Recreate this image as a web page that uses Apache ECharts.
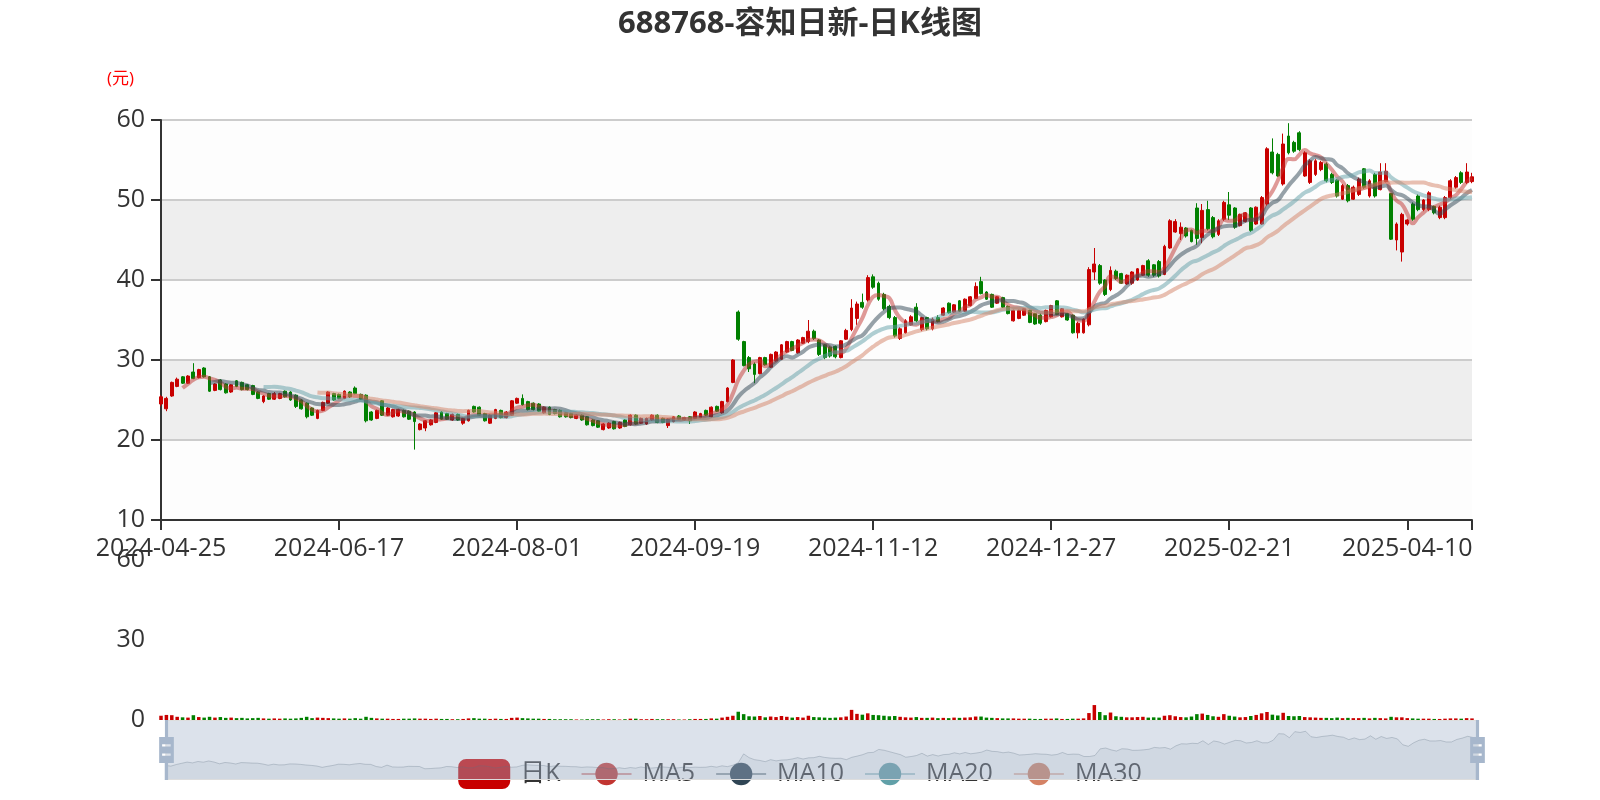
<!DOCTYPE html>
<html>
<head>
<meta charset="utf-8">
<script src="https://cdn.jsdelivr.net/npm/echarts@6/dist/echarts.min.js"></script>
<style>html,body{margin:0;padding:0;background:#fff}#c{width:1600px;height:800px}</style>
</head>
<body>
<div id="c"></div>
<script>
// ---------- DATA ----------
const dates = [
'2024-04-25','2024-04-26','2024-04-29','2024-04-30',
'2024-05-06','2024-05-07','2024-05-08','2024-05-09','2024-05-10','2024-05-13','2024-05-14','2024-05-15','2024-05-16','2024-05-17','2024-05-20','2024-05-21','2024-05-22','2024-05-23','2024-05-24','2024-05-27','2024-05-28','2024-05-29','2024-05-30','2024-05-31',
'2024-06-03','2024-06-04','2024-06-05','2024-06-06','2024-06-07','2024-06-11','2024-06-12','2024-06-13','2024-06-14','2024-06-17','2024-06-18','2024-06-19','2024-06-20','2024-06-21','2024-06-24','2024-06-25','2024-06-26','2024-06-27','2024-06-28',
'2024-07-01','2024-07-02','2024-07-03','2024-07-04','2024-07-05','2024-07-08','2024-07-09','2024-07-10','2024-07-11','2024-07-12','2024-07-15','2024-07-16','2024-07-17','2024-07-18','2024-07-19','2024-07-22','2024-07-23','2024-07-24','2024-07-25','2024-07-26','2024-07-29','2024-07-30','2024-07-31',
'2024-08-01','2024-08-02','2024-08-05','2024-08-06','2024-08-07','2024-08-08','2024-08-09','2024-08-12','2024-08-13','2024-08-14','2024-08-15','2024-08-16','2024-08-19','2024-08-20','2024-08-21','2024-08-22','2024-08-23','2024-08-26','2024-08-27','2024-08-28','2024-08-29','2024-08-30',
'2024-09-02','2024-09-03','2024-09-04','2024-09-05','2024-09-06','2024-09-09','2024-09-10','2024-09-11','2024-09-12','2024-09-13','2024-09-18','2024-09-19','2024-09-20','2024-09-23','2024-09-24','2024-09-25','2024-09-26','2024-09-27','2024-09-30',
'2024-10-08','2024-10-09','2024-10-10','2024-10-11','2024-10-14','2024-10-15','2024-10-16','2024-10-17','2024-10-18','2024-10-21','2024-10-22','2024-10-23','2024-10-24','2024-10-25','2024-10-28','2024-10-29','2024-10-30','2024-10-31',
'2024-11-01','2024-11-04','2024-11-05','2024-11-06','2024-11-07','2024-11-08','2024-11-11','2024-11-12','2024-11-13','2024-11-14','2024-11-15','2024-11-18','2024-11-19','2024-11-20','2024-11-21','2024-11-22','2024-11-25','2024-11-26','2024-11-27','2024-11-28','2024-11-29',
'2024-12-02','2024-12-03','2024-12-04','2024-12-05','2024-12-06','2024-12-09','2024-12-10','2024-12-11','2024-12-12','2024-12-13','2024-12-16','2024-12-17','2024-12-18','2024-12-19','2024-12-20','2024-12-23','2024-12-24','2024-12-25','2024-12-26','2024-12-27','2024-12-30','2024-12-31',
'2025-01-02','2025-01-03','2025-01-06','2025-01-07','2025-01-08','2025-01-09','2025-01-10','2025-01-13','2025-01-14','2025-01-15','2025-01-16','2025-01-17','2025-01-20','2025-01-21','2025-01-22','2025-01-23','2025-01-24','2025-01-27',
'2025-02-05','2025-02-06','2025-02-07','2025-02-10','2025-02-11','2025-02-12','2025-02-13','2025-02-14','2025-02-17','2025-02-18','2025-02-19','2025-02-20','2025-02-21','2025-02-24','2025-02-25','2025-02-26','2025-02-27','2025-02-28',
'2025-03-03','2025-03-04','2025-03-05','2025-03-06','2025-03-07','2025-03-10','2025-03-11','2025-03-12','2025-03-13','2025-03-14','2025-03-17','2025-03-18','2025-03-19','2025-03-20','2025-03-21','2025-03-24','2025-03-25','2025-03-26','2025-03-27','2025-03-28','2025-03-31',
'2025-04-01','2025-04-02','2025-04-03','2025-04-07','2025-04-08','2025-04-09','2025-04-10','2025-04-11','2025-04-14','2025-04-15','2025-04-16','2025-04-17','2025-04-18','2025-04-21','2025-04-22','2025-04-23','2025-04-24','2025-04-25','2025-04-28'
];

// [open, close, low, high]
const kdata = [
[24.5,25.4,24.2,25.6],[23.9,25.2,23.6,25.4],[25.5,27.2,25.4,27.3],[26.7,27.6,26.6,27.8],[27.9,27.1,27.0,28.0],
[27.1,28.0,27.0,28.1],[28.5,27.7,27.6,29.6],[27.8,28.8,27.7,28.9],[29.0,27.9,27.8,29.1],[27.9,26.1,26.0,28.0],
[26.2,27.0,26.1,27.1],[27.5,26.3,26.2,27.6],[27.0,25.9,25.8,27.1],[26.0,26.9,25.9,27.0],[27.4,26.7,26.6,27.5],
[27.2,26.3,26.2,27.3],[26.9,26.3,26.2,27.0],[26.8,25.7,25.6,26.9],[26.0,25.2,25.1,26.1],[24.8,25.5,24.6,25.6],
[25.8,25.1,25.0,25.9],[25.1,25.8,25.0,26.0],[25.2,25.8,25.1,25.9],[26.1,25.4,25.3,26.2],[26.0,25.0,24.9,26.1],
[25.6,24.2,24.0,25.7],[25.0,23.9,23.8,25.1],[24.6,22.9,22.7,24.7],[24.0,23.1,23.0,24.1],[22.7,23.7,22.6,23.8],
[23.7,24.7,23.6,24.8],[24.6,26.0,24.5,26.1],[25.8,25.0,24.9,25.9],[25.7,25.2,25.1,25.8],[25.2,26.1,25.1,26.2],
[26.0,25.4,25.3,26.1],[26.5,25.8,25.7,26.7],[25.7,25.1,25.0,25.8],[25.6,22.4,22.2,25.7],[23.5,22.5,22.4,23.6],
[22.7,23.7,22.6,23.8],[24.9,23.1,23.0,25.0],[23.1,24.0,23.0,24.1],[22.9,23.8,22.8,23.9],[23.0,23.8,22.9,23.9],
[23.7,22.9,22.8,23.8],[23.6,22.6,22.5,23.7],[23.5,22.3,18.8,23.6],[21.3,22.0,21.2,22.1],[21.5,22.4,21.1,22.5],
[21.9,22.5,21.8,22.6],[22.2,23.4,22.1,23.5],[23.5,22.6,22.5,23.6],[23.3,22.6,22.5,23.4],[22.5,23.2,22.4,23.3],
[23.2,22.5,22.4,23.3],[22.1,22.7,21.9,22.8],[22.4,23.7,22.3,23.8],[24.2,23.5,23.4,24.3],[24.1,23.1,23.0,24.2],
[23.3,22.4,22.3,23.4],[22.1,23.1,22.0,23.2],[22.7,23.8,22.6,23.9],[23.7,22.8,22.7,23.8],[22.8,23.5,22.7,23.6],
[23.1,24.9,23.0,25.0],[24.6,25.2,24.5,25.3],[25.2,24.4,24.3,25.7],[24.8,23.8,23.7,24.9],[24.6,23.8,23.7,24.7],
[24.5,23.6,23.5,24.6],[23.4,24.1,23.3,24.2],[24.1,23.2,23.1,24.2],[23.8,23.3,23.2,23.9],[23.7,22.9,22.8,23.8],
[23.4,22.9,22.8,23.5],[23.3,22.8,22.7,23.4],[22.7,23.1,22.6,23.2],[23.1,22.5,22.4,23.2],[22.9,21.9,21.8,23.0],
[22.5,21.8,21.7,22.6],[22.4,21.6,21.5,22.5],[21.3,22.0,21.2,22.1],[21.5,22.1,21.4,22.2],[22.3,21.4,21.3,22.4],
[21.5,22.2,21.4,22.3],[22.5,21.7,21.6,22.6],[21.9,23.1,21.8,23.2],[23.1,22.0,21.9,23.2],[22.1,22.7,22.0,22.8],
[22.0,22.7,21.9,22.8],[22.5,23.1,22.4,23.2],[23.1,22.2,22.1,23.2],[22.7,22.2,22.1,22.8],[21.8,22.6,21.5,22.7],
[22.3,22.9,22.2,23.0],[23.0,22.6,22.5,23.1],[22.5,22.8,22.4,22.9],[22.9,22.4,22.0,23.0],[22.7,23.5,22.6,23.6],
[22.8,23.3,22.7,23.4],[23.7,23.1,23.0,23.8],[22.9,24.1,22.8,24.2],[24.2,23.6,23.5,24.3],[23.4,24.8,23.3,24.9],
[24.8,26.5,24.7,26.6],[27.2,30.0,27.1,30.1],[36.0,32.6,32.4,36.2],[32.3,29.3,29.2,32.4],[30.3,28.9,28.5,30.5],
[29.5,28.2,27.1,29.7],[28.3,30.3,28.2,30.4],[30.3,29.4,29.3,30.4],[29.1,30.7,29.0,30.8],[29.9,31.0,29.8,31.1],
[30.1,31.9,30.0,32.0],[31.0,32.3,30.9,32.4],[32.3,31.2,31.1,32.4],[30.9,32.5,30.8,32.6],[32.1,32.8,32.0,32.9],
[32.3,33.6,32.1,35.0],[33.6,32.7,32.5,33.8],[32.5,30.7,30.5,32.6],[31.9,30.3,30.1,32.0],[31.6,30.5,30.3,31.7],
[31.7,30.4,30.2,31.8],[30.3,32.4,30.2,32.5],[32.6,33.7,32.5,33.9],[33.8,36.5,33.6,37.6],[35.2,37.0,34.4,37.3],
[37.2,36.6,36.4,38.3],[37.5,40.3,37.3,40.6],[40.4,39.1,38.9,40.7],[39.6,37.6,37.4,39.8],[38.2,36.4,36.2,38.4],
[36.7,35.3,35.1,36.9],[35.3,33.0,32.8,35.5],[32.7,33.9,32.5,34.1],[33.4,34.9,33.3,35.1],[34.4,35.4,34.3,35.6],
[36.6,34.9,34.7,37.1],[33.8,35.3,33.6,35.4],[35.3,33.9,33.7,35.4],[33.9,35.1,33.7,35.3],[35.3,34.8,34.7,35.6],
[35.6,36.5,35.5,36.6],[37.1,35.9,35.8,37.2],[36.0,36.9,35.9,37.0],[37.4,36.1,36.0,37.5],[36.1,37.6,36.0,37.7],
[36.8,37.9,36.7,38.0],[37.7,39.2,37.6,39.7],[39.8,38.3,38.2,40.4],[38.5,37.6,37.5,38.6],[38.2,36.6,36.5,38.3],
[37.1,37.9,37.0,38.0],[37.8,36.6,36.5,37.9],[36.7,35.8,35.7,36.8],[34.9,36.2,34.8,36.3],[35.2,36.2,35.1,36.3],
[35.6,36.4,35.5,36.5],[36.2,34.7,34.6,36.3],[35.8,34.5,34.4,35.9],[35.6,34.6,34.4,35.8],[34.8,36.2,34.7,36.3],
[35.4,36.8,35.3,36.9],[37.4,35.7,35.6,37.5],[35.4,36.4,35.3,36.5],[35.8,35.0,34.9,35.9],[35.6,33.4,33.3,35.7],
[33.4,34.6,32.7,34.8],[33.4,35.1,33.3,35.2],[34.4,41.3,34.2,41.6],[41.0,42.0,40.0,44.0],[41.8,39.6,39.4,42.0],
[40.0,38.2,38.0,40.1],[38.8,41.2,38.6,41.7],[41.1,40.2,40.0,41.3],[40.8,39.6,39.5,40.9],[39.5,40.6,39.4,40.7],
[39.6,41.0,39.4,41.1],[40.0,41.4,39.9,41.5],[40.6,41.8,40.5,41.9],[42.4,40.6,40.4,42.6],[41.9,40.6,40.4,42.0],
[42.3,40.5,40.3,42.5],[40.7,44.2,40.6,44.4],[44.0,47.4,43.9,47.6],[46.0,47.3,45.9,47.6],[45.8,46.6,45.0,47.2],
[46.5,45.5,45.3,46.6],[46.2,44.8,44.7,46.3],[49.0,45.2,44.4,49.6],[45.3,48.7,44.6,49.5],[48.8,46.4,46.2,49.9],
[47.8,45.4,45.2,48.0],[45.7,47.4,45.5,47.6],[47.6,49.7,47.4,49.9],[49.4,48.1,47.5,51.0],[49.0,46.6,46.4,49.1],
[46.8,48.2,46.7,48.3],[47.3,48.4,47.2,48.5],[49.0,46.2,46.0,49.1],[47.0,49.1,46.9,49.2],[47.0,50.3,46.9,50.5],
[49.5,56.4,49.3,56.6],[56.0,53.4,53.2,57.7],[55.7,53.0,52.9,55.9],[52.0,57.0,51.8,58.3],[58.0,55.9,55.7,59.6],
[57.2,56.1,55.9,57.4],[58.4,56.3,56.1,58.6],[53.0,55.9,52.9,56.1],[52.2,54.9,52.0,55.1],[53.2,54.9,53.0,55.1],
[53.8,54.7,53.6,54.9],[54.5,52.4,52.2,54.7],[53.2,52.2,52.0,53.4],[52.5,50.5,50.3,52.6],[50.1,51.8,50.0,52.0],
[51.8,49.9,49.7,52.0],[50.1,51.6,50.0,51.8],[50.7,52.6,50.5,52.8],[53.9,51.6,51.4,54.0],[50.5,52.4,50.3,52.6],
[53.2,50.5,50.3,53.4],[51.3,53.5,51.2,54.6],[52.3,53.6,52.2,54.6],[50.8,45.1,45.0,50.9],[45.0,47.0,43.7,47.2],
[43.5,48.2,42.3,48.4],[47.0,47.5,46.8,47.6],[49.5,47.6,47.4,49.7],[50.5,48.8,48.6,50.7],[48.8,50.0,48.6,50.1],
[48.8,50.9,48.6,51.1],[49.2,48.4,48.2,49.3],[47.8,49.1,47.6,49.3],[47.8,50.3,47.6,50.5],[50.3,52.4,50.1,52.6],
[51.6,52.8,51.4,53.0],[53.4,52.2,52.0,53.6],[52.2,53.5,52.0,54.6],[52.3,52.9,52.1,53.4]
];

const volumes = [
1.6,1.9,1.8,1.2,1.0,0.9,1.8,1.1,0.9,1.2,
0.9,1.1,0.8,0.9,0.7,0.8,0.6,0.7,0.8,0.6,
0.5,0.6,0.5,0.6,0.5,0.6,0.8,1.2,0.7,0.9,
0.8,0.7,0.6,0.5,0.6,0.5,0.7,0.5,1.2,0.8,
0.6,0.5,0.5,0.4,0.4,0.5,0.5,0.6,0.5,0.5,
0.4,0.5,0.4,0.4,0.3,0.3,0.4,0.6,0.7,0.5,
0.5,0.4,0.5,0.4,0.4,0.8,0.9,0.7,0.6,0.5,
0.5,0.4,0.4,0.3,0.3,0.3,0.3,0.2,0.2,0.3,
0.3,0.3,0.2,0.3,0.3,0.2,0.3,0.5,0.5,0.3,
0.3,0.4,0.3,0.3,0.3,0.3,0.2,0.2,0.3,0.4,
0.4,0.4,0.6,0.5,0.9,1.2,1.6,3.1,2.2,1.4,
1.3,1.5,1.0,1.3,1.1,1.5,1.2,0.9,1.1,0.9,
1.6,1.1,1.0,0.9,0.8,0.9,1.0,1.3,3.8,2.3,
2.0,2.5,1.9,1.8,1.6,1.4,1.5,1.2,1.0,0.9,
1.1,0.8,0.8,0.9,0.7,0.8,0.7,0.9,0.8,0.9,
1.0,1.3,1.3,0.9,0.8,0.7,0.6,0.6,0.6,0.5,
0.5,0.5,0.4,0.4,0.5,0.5,0.6,0.4,0.4,0.5,
0.5,0.6,2.6,5.6,3.0,1.8,2.8,1.4,1.2,1.0,
1.0,1.1,1.2,0.9,1.0,0.9,1.6,1.8,1.4,1.1,
1.0,1.3,2.2,2.4,1.9,1.4,1.2,2.2,1.6,1.3,
1.0,1.1,1.5,1.9,2.5,3.0,2.0,1.7,2.7,1.5,
1.4,1.5,1.1,1.0,0.9,0.8,0.8,0.7,0.9,0.7,
0.8,0.7,0.7,0.8,0.6,0.8,0.7,0.6,1.2,1.0,
1.0,0.7,0.6,0.5,0.5,0.5,0.4,0.4,0.5,0.6,
0.6,0.5,0.7,0.6
];

const maPeriods = [5, 10, 20, 30];
const priceTicks = { min: 10, max: 60, interval: 10 };
const volumeTicks = { min: 0, max: 60, interval: 30 };
const labelStep = 33;
const titleText = '688768-容知日新-日K线图';

// ---------- CHART ----------
const UP = '#c80000', DOWN = '#008000';
const FONT = "'Open Sans', 'Noto Sans CJK SC', sans-serif";
const maColors = ['#c23531', '#2f4554', '#61a0a8', '#d48265'];

function calcMA(n) {
  const out = [];
  for (let i = 0; i < kdata.length; i++) {
    if (i < n - 1) { out.push('-'); continue; }
    let s = 0;
    for (let j = 0; j < n; j++) s += kdata[i - j][1];
    out.push(+(s / n).toFixed(3));
  }
  return out;
}

const volData = volumes.map((v, i) => ({
  value: v,
  itemStyle: { color: kdata[i][1] >= kdata[i][0] ? UP : DOWN }
}));

// tick positions: every labelStep categories plus the last category
const tickIdx = [];
for (let i = 0; i < dates.length; i += labelStep) tickIdx.push(i);
tickIdx.push(dates.length - 1);

const chart = echarts.init(document.getElementById('c'), null, { renderer: 'canvas' });

const maSeries = maPeriods.map((n, k) => ({
  name: 'MA' + n,
  type: 'line',
  data: calcMA(n),
  smooth: true,
  symbol: 'circle',
  showSymbol: false,
  color: maColors[k],
  lineStyle: { width: 4, opacity: 0.5, color: maColors[k] },
  itemStyle: { color: maColors[k] },
  z: 3
}));

const option = {
  animation: false,
  backgroundColor: '#fff',
  textStyle: { fontFamily: FONT },
  title: {
    text: titleText, left: 'center', top: 4,
    textStyle: { fontSize: 31, fontWeight: 'bold', color: '#333', fontFamily: FONT }
  },
  legend: {
    data: ['日K', 'MA5', 'MA10', 'MA20', 'MA30'],
    left: 'center', top: 754,
    itemWidth: 50, itemHeight: 28, itemGap: 20,
    textStyle: { fontSize: 25, color: '#333', fontFamily: FONT, padding: [0, 0, 0, 6] },
    z: 1
  },
  grid: [
    { left: 161, right: 128, top: 120, height: 400 },
    { left: 161, right: 128, top: 560, height: 160 }
  ],
  xAxis: [
    {
      type: 'category', data: dates, boundaryGap: false,
      axisLine: { show: true, onZero: false, lineStyle: { color: '#333', width: 2 } },
      axisTick: { show: true, length: 10, customValues: tickIdx, lineStyle: { color: '#333', width: 2 } },
      axisLabel: { interval: labelStep - 1, fontSize: 25, margin: 16, color: '#333', fontFamily: FONT },
      splitLine: { show: false }
    },
    {
      type: 'category', gridIndex: 1, data: dates, boundaryGap: false,
      axisLine: { show: false }, axisTick: { show: false }, axisLabel: { show: false }, splitLine: { show: false }
    }
  ],
  yAxis: [
    {
      type: 'value', min: priceTicks.min, max: priceTicks.max, interval: priceTicks.interval,
      name: '(元)', nameLocation: 'end', nameGap: 32,
      nameTextStyle: { color: '#ff0000', fontSize: 17, align: 'right', padding: [0, 27, 0, 0], fontFamily: FONT },
      axisLine: { show: true, lineStyle: { color: '#333', width: 2 } },
      axisTick: { show: true, length: 10, lineStyle: { color: '#333', width: 2 } },
      axisLabel: { fontSize: 25, margin: 16, color: '#333', fontFamily: FONT },
      splitLine: { show: true, lineStyle: { color: '#ccc', width: 2 } },
      splitArea: { show: true, areaStyle: { color: ['rgba(250,250,250,0.3)', 'rgba(200,200,200,0.3)'] } }
    },
    {
      type: 'value', gridIndex: 1, min: volumeTicks.min, max: volumeTicks.max, interval: volumeTicks.interval,
      axisLine: { show: false }, axisTick: { show: false }, splitLine: { show: false },
      axisLabel: { fontSize: 25, margin: 16, color: '#333', fontFamily: FONT }
    }
  ],
  dataZoom: [
    {
      type: 'slider', xAxisIndex: [0, 1], start: 0, end: 100,
      left: 163, right: 124, top: 720, height: 60,
      backgroundColor: 'rgba(47,69,84,0)', borderColor: '#ddd', borderRadius: 0,
      fillerColor: 'rgba(167,183,204,0.4)',
      handleIcon: 'path://M8.2,13.6V3.9H6.3v9.7H3.1v14.9h3.3v9.7h1.8v-9.7h3.3V13.6H8.2z M9.7,24.4H4.8v-1.4h4.9V24.4z M9.7,19.1H4.8v-1.4h4.9V19.1z',
      handleSize: '100%',
      handleStyle: { color: '#a7b7cc', borderColor: '#a7b7cc', borderWidth: 0 },
      dataBackground: { lineStyle: { color: '#2f4554', width: 1, opacity: 0.3 }, areaStyle: { color: 'rgba(47,69,84,0.3)', opacity: 0.3 } },
      selectedDataBackground: { lineStyle: { color: '#2f4554', width: 1, opacity: 0.3 }, areaStyle: { color: 'rgba(47,69,84,0.3)', opacity: 0.3 } },
      showDetail: false, brushSelect: false, moveHandleSize: 0,
      moveHandleStyle: { opacity: 0 },
      emphasis: { handleStyle: { color: '#a7b7cc' }, moveHandleStyle: { opacity: 0 } },
      z: 10
    }
  ],
  series: [
    {
      name: '日K', type: 'candlestick', data: kdata,
      barWidth: '62%',
      itemStyle: { color: UP, color0: DOWN, borderColor: UP, borderColor0: DOWN, borderWidth: 1 },
      z: 2
    },
    ...maSeries,
    {
      name: '成交量', type: 'bar', xAxisIndex: 1, yAxisIndex: 1, data: volData,
      barWidth: '65%'
    }
  ]
};
chart.setOption(option);
</script>
</body>
</html>
